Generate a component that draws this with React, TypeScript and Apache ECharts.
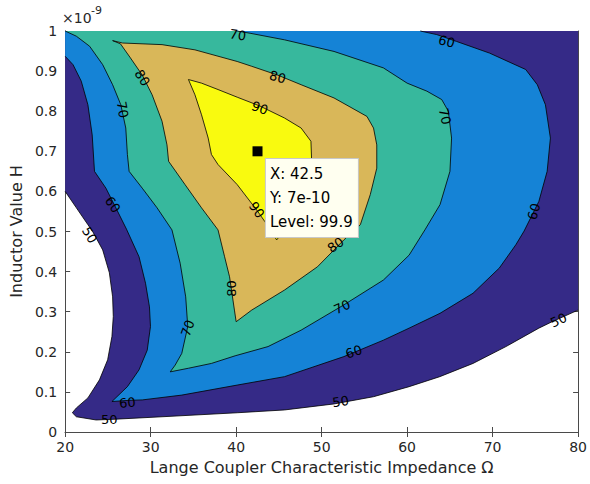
import React, { useEffect, useRef } from "react";
import * as echarts from "echarts";

// ---- axis ticks ----
const xMin = 20;
const xMax = 80;
const xStep = 10;
const yMin = 0;
const yMax = 1;
const yStep = 0.1;

// ---- contour boundaries (x: impedance Ω, y: inductance ×1e-9 H) ----
const line50 = [
  [20, 0.6], [21.31, 0.559], [22.66, 0.517], [23.24, 0.499], [24.39, 0.454], [25.17, 0.397],
  [25.55, 0.337], [25.63, 0.288], [25.47, 0.238], [24.97, 0.18], [24.01, 0.13], [22.66, 0.085],
  [21.31, 0.06], [20.84, 0.048], [21.31, 0.038], [23.62, 0.03], [25.93, 0.032], [31.33, 0.038],
  [40.12, 0.048], [45.66, 0.055], [51.45, 0.07], [56.07, 0.088], [60.23, 0.113], [63.82, 0.138],
  [67.71, 0.171], [71.56, 0.213], [75.41, 0.259], [76.96, 0.275], [80, 0.304],
];
const line60 = [
  [20, 0.937], [20.92, 0.916], [21.88, 0.875], [22.66, 0.816], [23.16, 0.741], [23.43, 0.65],
  [24.77, 0.608], [25.93, 0.559], [27.17, 0.506], [28.64, 0.437], [29.4, 0.371], [29.86, 0.312],
  [29.98, 0.263], [29.6, 0.204], [28.64, 0.155], [27.28, 0.113], [25.47, 0.076], [27.5, 0.079],
  [29.02, 0.08], [33.64, 0.092], [40.12, 0.117], [45.66, 0.138], [52.6, 0.188], [57.23, 0.229],
  [60.23, 0.259], [63.85, 0.296], [67.71, 0.346], [70.79, 0.409], [72.72, 0.467], [73.68, 0.501],
  [75.41, 0.575], [76.38, 0.65], [76.76, 0.733], [76.18, 0.816], [75.23, 0.866], [73.87, 0.904],
  [69.63, 0.945], [65.78, 0.974], [63.47, 0.991], [61.54, 1.0],
];
const line70 = [
  [20, 1.0], [21.31, 0.987], [22.86, 0.962], [24.39, 0.916], [25.55, 0.866], [26.51, 0.816],
  [27.09, 0.758], [27.28, 0.692], [27.48, 0.65], [29.02, 0.608], [30.75, 0.559], [32.49, 0.504],
  [33.45, 0.421], [34.1, 0.337], [34.34, 0.263], [33.64, 0.196], [32.87, 0.167], [32.29, 0.15],
  [34.42, 0.159], [37.11, 0.171], [39.88, 0.19], [43.73, 0.213], [47.6, 0.254], [52.6, 0.317],
  [57.23, 0.379], [60.23, 0.441], [62.08, 0.504], [63.85, 0.567], [65.01, 0.65], [65.2, 0.733],
  [64.82, 0.8], [64.05, 0.829], [62.31, 0.85], [60.0, 0.87], [57.23, 0.908], [51.45, 0.949],
  [45.66, 0.978], [41.73, 0.994], [40.12, 1.0],
];
const line80 = [
  [25.55, 0.976], [26.71, 0.97], [31.33, 0.966], [35.18, 0.953], [40.12, 0.924], [41.82, 0.912],
  [44.86, 0.89], [47.6, 0.866], [51.45, 0.833], [55.3, 0.787], [56.07, 0.758], [56.45, 0.716],
  [56.45, 0.658], [55.69, 0.592], [54.53, 0.517], [52.6, 0.479], [49.51, 0.412], [45.66, 0.354],
  [41.82, 0.304], [40.0, 0.275], [39.8, 0.304], [39.23, 0.387], [38.65, 0.437], [37.88, 0.504],
  [35.95, 0.559], [34.02, 0.617], [32.1, 0.675], [31.91, 0.716], [31.33, 0.775], [30.17, 0.841],
  [29.02, 0.89], [27.63, 0.933], [26.9, 0.955], [26.47, 0.968],
];
const line90 = [
  [34.42, 0.879], [35.95, 0.87], [37.88, 0.854], [40.12, 0.835], [42.77, 0.813], [45.66, 0.783],
  [47.6, 0.758], [48.75, 0.725], [48.82, 0.683], [48.44, 0.628], [47.51, 0.566], [46.13, 0.516],
  [44.74, 0.479], [43.35, 0.525], [42.39, 0.554], [40.12, 0.617], [37.88, 0.667], [37.11, 0.692],
  [36.73, 0.733], [35.95, 0.791], [35.18, 0.841],
];

// ---- contour labels ----
const labelTexts = ["70", "80", "90", "80", "70", "60", "50", "90", "80", "70", "60", "50", "80", "70", "60", "50", "50", "60", "70", "60"];
const labelPos = [
  [40.2, 0.99], [44.86, 0.885], [42.77, 0.808], [29.02, 0.883], [26.71, 0.804], [25.55, 0.567],
  [22.86, 0.491], [42.39, 0.554], [39.42, 0.358], [34.34, 0.259], [27.28, 0.073], [25.17, 0.03],
  [51.64, 0.466], [52.4, 0.312], [53.76, 0.2], [52.22, 0.076], [77.72, 0.279], [74.83, 0.55],
  [64.43, 0.787], [64.62, 0.974],
];
const labelRotDeg = [-8, -15, -20, -58, -80, -55, -60, -55, 90, 70, 5, 0, 35, 25, 18, 8, 25, 74, -78, -15];

// ---- data tip ----
const tipPoint = [42.5, 0.7];
const tipLines = ["X: 42.5", "Y: 7e-10", "Level: 99.9"];

const levelColors = ["#352a87", "#1583d6", "#37b89d", "#d9b759", "#f9fa0f"];
const FONT = "'DejaVu Sans', 'Liberation Sans', Arial, sans-serif";

function regionSeries(fill: number[][], stroke: number[][], color: string, closed: boolean, z: number) {
  return {
    type: "custom",
    coordinateSystem: "cartesian2d",
    silent: true,
    z,
    data: fill,
    renderItem: (params: any, api: any) => {
      if (params.dataIndex !== 0) return null;
      const fp = fill.map((p) => api.coord(p));
      const sp = stroke.map((p) => api.coord(p));
      if (closed) sp.push(sp[0]);
      return {
        type: "group",
        children: [
          { type: "polygon", shape: { points: fp }, style: { fill: color } },
          { type: "polyline", shape: { points: sp }, style: { fill: "none", stroke: "#000", lineWidth: 0.8 } },
        ],
      };
    },
  };
}

export default function App() {
  const ref = useRef<HTMLDivElement>(null);
  useEffect(() => {
    if (!ref.current) return;
    const chart = echarts.init(ref.current, null, { renderer: "svg" });
    const axisColor = "#4a4a4a";
    const commonX = {
      type: "value",
      min: xMin,
      max: xMax,
      interval: xStep,
      splitLine: { show: false },
      axisLine: { show: true, lineStyle: { color: axisColor, width: 1 } },
      axisTick: { show: true, inside: true, length: 5, lineStyle: { color: axisColor } },
    };
    const commonY = {
      type: "value",
      min: yMin,
      max: yMax,
      interval: yStep,
      splitLine: { show: false },
      axisLine: { show: true, lineStyle: { color: axisColor, width: 1 } },
      axisTick: { show: true, inside: true, length: 5, lineStyle: { color: axisColor } },
    };
    chart.setOption({
      animation: false,
      backgroundColor: "#ffffff",
      grid: { left: 62, right: 9, top: 31, bottom: 52, containLabel: false },
      xAxis: [
        {
          ...commonX,
          position: "bottom",
          axisLabel: { color: "#262626", fontSize: 14, fontFamily: FONT, margin: 8 },
          name: "Lange Coupler Characteristic Impedance Ω",
          nameLocation: "middle",
          nameGap: 27,
          nameTextStyle: { color: "#262626", fontSize: 16, fontFamily: FONT },
        },
        { ...commonX, position: "top", axisLabel: { show: false } },
      ],
      yAxis: [
        {
          ...commonY,
          position: "left",
          axisLabel: {
            color: "#262626",
            fontSize: 14,
            fontFamily: FONT,
            margin: 8,
            formatter: (v: number) => String(Math.round(v * 10) / 10),
          },
          name: "Inductor Value H",
          nameLocation: "middle",
          nameGap: 36,
          nameTextStyle: { color: "#262626", fontSize: 16, fontFamily: FONT },
        },
        { ...commonY, position: "right", axisLabel: { show: false } },
      ],
      series: [
        regionSeries([...line50, [80, 1], [20, 1]], line50, levelColors[0], false, 1),
        regionSeries([...line60, [20, 1]], line60, levelColors[1], false, 2),
        regionSeries(line70, line70, levelColors[2], false, 3),
        regionSeries(line80, line80, levelColors[3], true, 4),
        regionSeries(line90, line90, levelColors[4], true, 5),
        {
          type: "custom",
          coordinateSystem: "cartesian2d",
          silent: true,
          z: 6,
          data: labelPos,
          renderItem: (params: any, api: any) => {
            const p = api.coord([api.value(0), api.value(1)]);
            return {
              type: "text",
              x: p[0],
              y: p[1],
              rotation: (labelRotDeg[params.dataIndex] * Math.PI) / 180,
              style: {
                text: labelTexts[params.dataIndex],
                fill: "#000",
                fontSize: 13,
                fontFamily: FONT,
                align: "center",
                verticalAlign: "middle",
              },
            };
          },
        },
        {
          type: "scatter",
          data: [tipPoint],
          symbol: "rect",
          symbolSize: 10,
          itemStyle: { color: "#000", opacity: 1 },
          z: 20,
          silent: true,
          label: {
            show: true,
            position: [13.4, 12.7],
            formatter: () => tipLines.join("\n"),
            color: "#000",
            opacity: 1,
            fontSize: 15,
            fontFamily: FONT,
            lineHeight: 24,
            align: "left",
            verticalAlign: "top",
            width: 84,
            padding: [3, 4, 3, 4],
            backgroundColor: "#fffff0",
            borderColor: "#c8c8c8",
            borderWidth: 1,
          },
        },
      ],
      graphic: [
        {
          type: "text",
          left: 62,
          top: 11,
          style: { text: "×10", fill: "#262626", fontSize: 14, fontFamily: FONT },
        },
        {
          type: "text",
          left: 91,
          top: 5,
          style: { text: "-9", fill: "#262626", fontSize: 11, fontFamily: FONT },
        },
      ],
    });
    return () => chart.dispose();
  }, []);
  return (
    <div
      ref={ref}
      style={{ position: "fixed", left: 0, top: 0, width: 590, height: 484, background: "#fff" }}
    />
  );
}
